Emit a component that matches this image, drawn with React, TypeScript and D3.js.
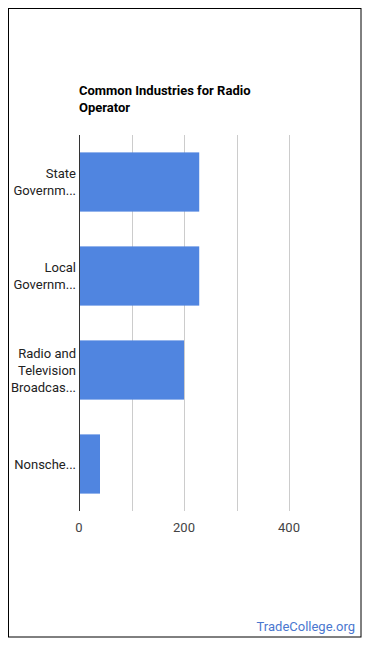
import React, { useEffect, useRef } from "react";
import * as d3 from "d3";

const categories = [
  ["State", "Governm..."],
  ["Local", "Governm..."],
  ["Radio and", "Television", "Broadcas..."],
  ["Nonsche..."],
];
const values = [229, 229, 200, 40];
const xTicks = [0, 200, 400];
const gridTicks = [100, 200, 300, 400];
const titleLines = ["Common Industries for Radio", "Operator"];

const W = 354;
const H = 630;

const App = () => {
  const svgRef = useRef<SVGSVGElement>(null);

  useEffect(() => {
    const svg = d3.select(svgRef.current);
    svg.selectAll("*").remove();

    const margin = { top: 127, left: 71, bottom: 503 };
    const x = d3.scaleLinear().domain([0, 500]).range([margin.left, margin.left + 262.5]);
    const y = d3
      .scaleBand<number>()
      .domain(d3.range(values.length))
      .range([margin.top, margin.bottom])
      .paddingInner(0.37)
      .paddingOuter(0.185);

    svg.append("rect")
      .attr("x", 0.5)
      .attr("y", 0.5)
      .attr("width", W - 1.5)
      .attr("height", H - 1.5)
      .attr("fill", "#fff")
      .attr("stroke", "#000")
      .attr("stroke-width", 1);

    svg.append("g")
      .selectAll("text")
      .data(titleLines)
      .join("text")
      .attr("x", margin.left)
      .attr("y", (d, i) => 86.5 + i * 17)
      .attr("font-family", "Roboto, sans-serif")
      .attr("font-size", 13)
      .attr("font-weight", "bold")
      .attr("fill", "#000")
      .text(d => d);

    // grid
    svg.append("g")
      .selectAll("line")
      .data(gridTicks)
      .join("line")
      .attr("x1", d => Math.round(x(d)) + 0.5)
      .attr("x2", d => Math.round(x(d)) + 0.5)
      .attr("y1", margin.top)
      .attr("y2", margin.bottom)
      .attr("stroke", "#cccccc")
      .attr("stroke-width", 1);

    svg.append("g")
      .selectAll("rect")
      .data(values)
      .join("rect")
      .attr("x", x(0))
      .attr("y", (d, i) => y(i)!)
      .attr("width", d => x(d) - x(0))
      .attr("height", y.bandwidth())
      .attr("fill", "#5085e0");

    // baseline
    svg.append("line")
      .attr("x1", Math.round(x(0)) + 0.5)
      .attr("x2", Math.round(x(0)) + 0.5)
      .attr("y1", margin.top)
      .attr("y2", margin.bottom)
      .attr("stroke", "#333")
      .attr("stroke-width", 1);

    // category labels
    const lh = 17;
    const cat = svg.append("g")
      .selectAll("text")
      .data(categories)
      .join("text")
      .attr("font-family", "Roboto, sans-serif")
      .attr("font-size", 13)
      .attr("fill", "#222")
      .attr("text-anchor", "end");
    cat.each(function (lines, i) {
      const cy = y(i)! + y.bandwidth() / 2;
      const y0 = cy - ((lines.length - 1) * lh) / 2 + 4.5;
      d3.select(this)
        .selectAll("tspan")
        .data(lines)
        .join("tspan")
        .attr("x", margin.left - 3)
        .attr("y", (d, j) => y0 + j * lh)
        .text(d => d);
    });

    svg.append("g")
      .selectAll("text")
      .data(xTicks)
      .join("text")
      .attr("x", d => x(d))
      .attr("y", 523.5)
      .attr("text-anchor", "middle")
      .attr("font-family", "Roboto, sans-serif")
      .attr("font-size", 13)
      .attr("fill", "#444")
      .text(d => d);

    svg.append("text")
      .attr("x", 347)
      .attr("y", 623)
      .attr("text-anchor", "end")
      .attr("font-family", "Roboto, sans-serif")
      .attr("font-size", 13)
      .attr("fill", "#4a77cf")
      .text("TradeCollege.org");
  }, []);

  return <svg ref={svgRef} width={W} height={H} style={{ display: "block" }} />;
};

export default App;
